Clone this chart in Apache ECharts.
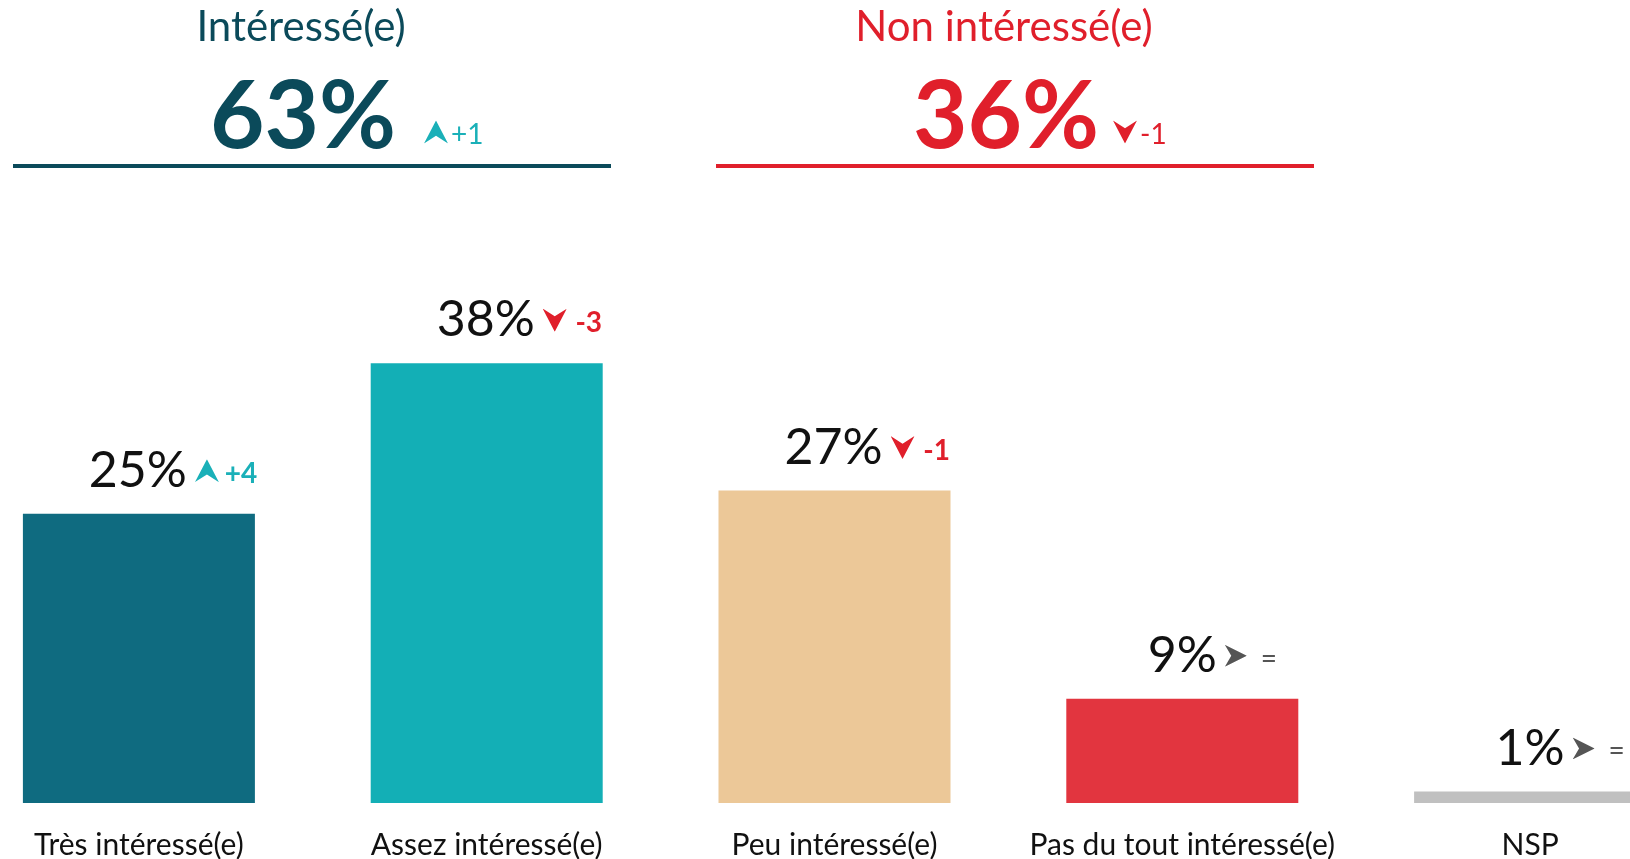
<!DOCTYPE html>
<html>
<head>
<meta charset="utf-8">
<script src="https://cdn.jsdelivr.net/npm/echarts@6/dist/echarts.min.js"></script>
<style>
  html, body { margin: 0; padding: 0; background: #fff; }
  #main { width: 1630px; height: 859px; }
</style>
</head>
<body>
<div id="main"></div>
<script>
    // donnees du graphique
    var categories = ['Très intéressé(e)', 'Assez intéressé(e)', 'Peu intéressé(e)', 'Pas du tout intéressé(e)', 'NSP'];
    var values = [25, 38, 27, 9, 1];
    var deltas = ['+4', '-3', '-1', '=', '='];
    var trends = ['up', 'down', 'down', 'flat', 'flat'];
    var barColors = ['#0f6b80', '#13afb6', '#ecc898', '#e2353f', '#c0c0c0'];

    // blocs du haut
    var groupNames = ['Intéressé(e)', 'Non intéressé(e)'];
    var groupTotals = [63, 36];
    var groupDeltas = ['+1', '-1'];
    var groupTrends = ['up', 'down'];
    var groupColors = ['#0b4a5a', '#e01f2b'];

    var FONT = 'Lato';
    var trendColors = { up: '#1ab0b8', down: '#e01f2b', flat: '#555555' };

    function arrowImg(trend) {
        var path;
        if (trend == 'up') path = 'M12 0 L24 24 L12 16 L0 24 Z';
        else if (trend == 'down') path = 'M0 0 L12 8 L24 0 L12 24 Z';
        else path = 'M0 0 L24 12 L0 24 L7 12 Z';
        var svg = "<svg xmlns='http://www.w3.org/2000/svg' width='24' height='24' viewBox='0 0 24 24'><path d='" + path + "' fill='" + trendColors[trend] + "'/></svg>";
        return 'data:image/svg+xml;charset=utf-8,' + encodeURIComponent(svg);
    }

    var arrowRich = {
        up: { width: 24, height: 23, backgroundColor: { image: arrowImg('up') } },
        down: { width: 24, height: 23, backgroundColor: { image: arrowImg('down') } },
        flat: { width: 22, height: 22, backgroundColor: { image: arrowImg('flat') } }
    };

    // styles des labels des barres
    var labelRich = {
        sp: { width: 72 },
        g: { width: 8 },
        v: { fontFamily: FONT, fontSize: 50, color: '#111', lineHeight: 50 },
        dup: { fontFamily: FONT, fontSize: 28, fontWeight: 'bold', color: trendColors.up, width: 40, padding: [6, 0, 0, 2] },
        ddown: { fontFamily: FONT, fontSize: 28, fontWeight: 'bold', color: trendColors.down, width: 40, padding: [6, 0, 0, 2] },
        dflat: { fontFamily: FONT, fontSize: 28, color: trendColors.flat, width: 40, padding: [6, 0, 0, 2] },
        up: arrowRich.up, down: arrowRich.down, flat: arrowRich.flat
    };

    // meme chose pour les textes graphic (zrender veut fill)
    var headRich = {
        up: arrowRich.up, down: arrowRich.down,
        dup: { fontFamily: FONT, fontSize: 28, fill: trendColors.up, padding: [6, 0, 0, 3] },
        ddown: { fontFamily: FONT, fontSize: 28, fill: trendColors.down, padding: [6, 0, 0, 3] }
    };

    var barData = [];
    for (var i = 0; i < values.length; i++) {
        barData.push({ value: values[i], itemStyle: { color: barColors[i] } });
    }

    // textes et traits du haut
    var graphics = [];
    var groupX = [301, 1004];
    var lineX = [[13, 611], [716, 1314]];
    var deltaX = [424, 1113];
    for (var k = 0; k < groupNames.length; k++) {
        graphics.push({
            type: 'text', x: groupX[k], y: 27,
            style: { text: groupNames[k], fill: groupColors[k], font: '42px ' + FONT, textAlign: 'center', textVerticalAlign: 'middle' }
        });
        graphics.push({
            type: 'text', x: groupX[k] + 2, y: 118,
            style: { text: groupTotals[k] + '%', fill: groupColors[k], font: 'bold 94px ' + FONT, textAlign: 'center', textVerticalAlign: 'middle' }
        });
        graphics.push({
            type: 'text', x: deltaX[k], y: 132,
            style: {
                text: '{' + groupTrends[k] + '|}{d' + groupTrends[k] + '|' + groupDeltas[k] + '}',
                textAlign: 'left', textVerticalAlign: 'middle',
                rich: headRich
            }
        });
        graphics.push({
            type: 'line',
            shape: { x1: lineX[k][0], y1: 166, x2: lineX[k][1], y2: 166 },
            style: { stroke: groupColors[k], lineWidth: 4 }
        });
    }

    var myChart = echarts.init(document.getElementById('main'));

    var option = {
        animation: false,
        backgroundColor: '#fff',
        grid: { left: -35, right: -74, top: 340, bottom: 56, containLabel: false, outerBoundsMode: 'none' },
        xAxis: {
            type: 'category',
            data: categories,
            axisLine: { show: false },
            axisTick: { show: false },
            axisLabel: { fontFamily: FONT, fontSize: 30, color: '#111', margin: 27, interval: 0 }
        },
        yAxis: {
            type: 'value',
            min: 0,
            max: 40,
            show: false,
            splitLine: { show: false }
        },
        graphic: graphics,
        series: [{
            type: 'bar',
            data: barData,
            barWidth: 232,
            label: {
                show: true,
                position: 'top',
                distance: 18,
                formatter: function (p) {
                    var i = p.dataIndex;
                    return '{sp|}{v|' + values[i] + '%}{g|}{' + trends[i] + '|}{d' + trends[i] + '|' + deltas[i] + '}';
                },
                rich: labelRich
            }
        }]
    };
    myChart.setOption(option);
</script>
</body>
</html>
